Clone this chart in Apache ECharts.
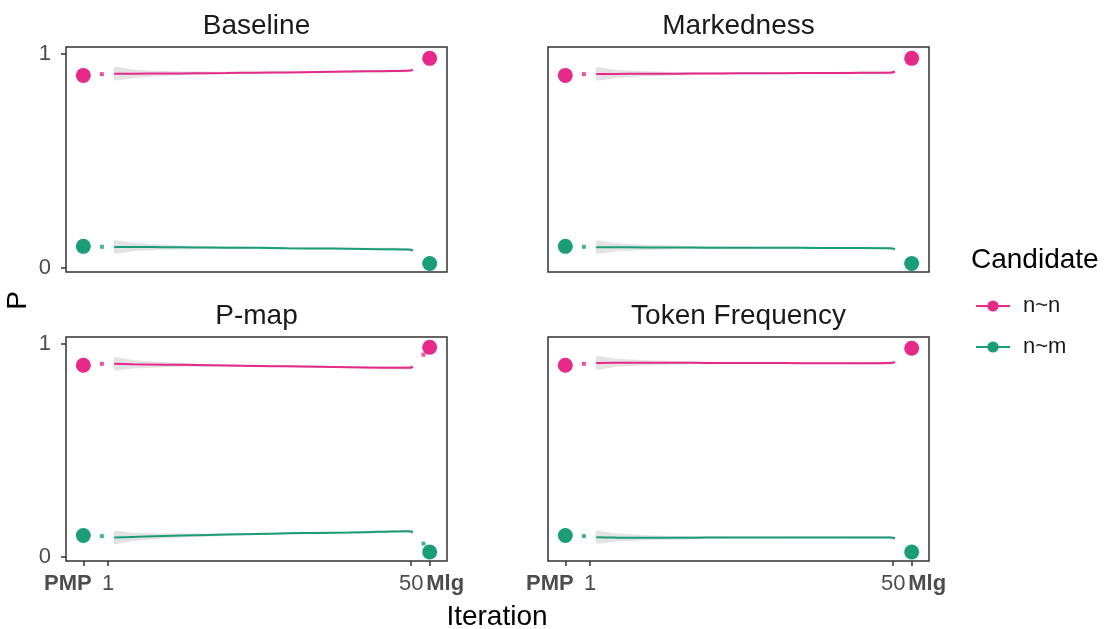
<!DOCTYPE html>
<html><head><meta charset="utf-8">
<script src="https://cdn.jsdelivr.net/npm/echarts@6/dist/echarts.min.js"></script>
<style>html,body{margin:0;padding:0;background:#fff}#c{width:1106px;height:629px}</style>
</head><body><div id="c"></div>
<script>
const panels = ['Baseline','Markedness','P-map','Token Frequency'];
const candidates = ['n~n','n~m'];
const colors = ['#E7298A','#1B9E77'];
const xTickValues = [-3, 1, 50, 53];
const xTickLabels = ['PMP','1','50','Mlg'];
const yTickValues = [0, 1];
// PMP (initial) and Mlg (final) points per panel: [n~n, n~m]
const pmpValues = [[0.90,0.10],[0.90,0.10],[0.90,0.10],[0.90,0.10]];
const mlgValues = [[0.980,0.020],[0.980,0.020],[0.985,0.022],[0.980,0.022]];
// iteration-0 small dots
const iter0Values = [[0.906,0.098],[0.906,0.098],[0.907,0.097],[0.907,0.097]];
// extra small dot near Mlg (P-map only)
const preMlgIter = 52;
const preMlgValues = [null,null,[0.950,0.062],null];
// smoothed trajectories
const iters = [2,5,10,15,20,25,30,35,40,45,49.5,50.3];
const lineNN = [
 [0.908,0.908,0.909,0.910,0.911,0.913,0.914,0.916,0.918,0.920,0.922,0.926],
 [0.907,0.907,0.908,0.908,0.909,0.910,0.910,0.911,0.911,0.912,0.913,0.917],
 [0.907,0.905,0.903,0.901,0.899,0.897,0.895,0.893,0.891,0.889,0.888,0.892],
 [0.911,0.912,0.912,0.912,0.911,0.911,0.911,0.910,0.910,0.910,0.911,0.915]
];
const lineNM = [
 [0.097,0.097,0.096,0.095,0.094,0.093,0.091,0.090,0.089,0.087,0.085,0.081],
 [0.096,0.096,0.095,0.095,0.094,0.094,0.093,0.093,0.092,0.092,0.091,0.087],
 [0.090,0.093,0.098,0.101,0.104,0.107,0.110,0.112,0.114,0.117,0.120,0.116],
 [0.092,0.090,0.089,0.089,0.090,0.090,0.090,0.091,0.091,0.091,0.091,0.087]
];
// ribbon half-widths (confidence band)
const bandHalf = [0.030,0.020,0.012,0.008,0.006,0.005,0.005,0.005,0.005,0.006,0.007,0.008];

const FONT = 'Liberation Sans, Arial, sans-serif';
const grids = [
 {left:66, top:47, width:381, height:225},
 {left:548, top:47, width:381, height:225},
 {left:66, top:337, width:381, height:224},
 {left:548, top:337, width:381, height:224}
];
const option = {
 animation:false,
 backgroundColor:'#fff',
 textStyle:{fontFamily:FONT},
 grid: grids.map(g=>Object.assign({show:true,borderColor:'#333',borderWidth:1.5,backgroundColor:'#fff'},g)),
 title: panels.map((p,i)=>({text:p,left:grids[i].left+grids[i].width/2,top:grids[i].top-35,textAlign:'center',padding:0,
   textStyle:{fontSize:28,fontWeight:'normal',color:'#1a1a1a',fontFamily:FONT}})).concat([
   {text:'Iteration',left:497,top:603,textAlign:'center',padding:0,textStyle:{fontSize:28,fontWeight:'normal',color:'#000',fontFamily:FONT}},
   {text:'Candidate',left:971,top:246,padding:0,textStyle:{fontSize:28,fontWeight:'normal',color:'#000',fontFamily:FONT}}
 ]),
 graphic:[{type:'text',left:4,top:291,rotation:Math.PI/2,style:{text:'P',fontSize:28,fill:'#000',fontFamily:FONT}}],
 legend:{data:candidates,orient:'vertical',left:975,top:295,itemWidth:34,itemHeight:14,itemGap:19,padding:0,
   textStyle:{fontSize:22,color:'#1a1a1a',padding:[0,0,0,8],fontFamily:FONT}},
 xAxis: grids.map((g,i)=>({type:'value',gridIndex:i,min:-5.8,max:55.8,splitLine:{show:false},
   axisLine:{show:false,onZero:false},
   axisTick:{show:i>=2,length:5,lineStyle:{color:'#333',width:1.5},customValues:xTickValues},
   axisLabel:{show:i>=2,customValues:xTickValues,margin:12,fontSize:22,color:'#4d4d4d',hideOverlap:false,
     showMinLabel:true,showMaxLabel:true,
     formatter:v=>{const k=xTickValues.indexOf(v);const t=xTickLabels[k];
       return t==='PMP'?'{l|'+t+'}':(t==='Mlg'?'{r|'+t+'}':t);},
     rich:{l:{fontWeight:'bold',fontSize:22,color:'#4d4d4d',padding:[0,31,0,0]},
           r:{fontWeight:'bold',fontSize:22,color:'#4d4d4d',padding:[0,0,0,31]}}}})),
 yAxis: grids.map((g,i)=>({type:'value',gridIndex:i,min:-0.02,max:1.033,splitLine:{show:false},
   axisLine:{show:false,onZero:false},
   axisTick:{show:i%2===0,length:5,lineStyle:{color:'#333',width:1.5},customValues:yTickValues},
   axisLabel:{show:i%2===0,customValues:yTickValues,margin:15,fontSize:22,color:'#4d4d4d'}})),
 series:[]
};
// legend series
candidates.forEach((c,ci)=>option.series.push({name:c,type:'line',xAxisIndex:0,yAxisIndex:0,data:[],
  symbol:'circle',symbolSize:14,itemStyle:{color:colors[ci]},lineStyle:{color:colors[ci],width:3}}));
panels.forEach((p,i)=>{
 const lines=[lineNN[i],lineNM[i]];
 lines.forEach((arr,ci)=>{
   option.series.push({type:'custom',xAxisIndex:i,yAxisIndex:i,silent:true,z:1,data:[[0,0]],
     renderItem:(params,api)=>{
       const pts=[];
       iters.forEach((x,k)=>pts.push(api.coord([x,arr[k]+bandHalf[k]])));
       for(let k=iters.length-1;k>=0;k--) pts.push(api.coord([iters[k],arr[k]-bandHalf[k]]));
       return {type:'polygon',shape:{points:pts,smooth:0.15},style:{fill:'rgba(153,153,153,0.28)'}};
     }});
   option.series.push({type:'line',xAxisIndex:i,yAxisIndex:i,symbol:'none',smooth:true,z:3,
     lineStyle:{color:colors[ci],width:2},data:iters.map((x,k)=>[x,arr[k]])});
   option.series.push({type:'scatter',xAxisIndex:i,yAxisIndex:i,symbol:'rect',symbolSize:4,z:4,itemStyle:{color:colors[ci]},
     data:[[0,iter0Values[i][ci]]].concat(preMlgValues[i]?[[preMlgIter,preMlgValues[i][ci]]]:[])});
   option.series.push({type:'scatter',xAxisIndex:i,yAxisIndex:i,symbol:'circle',symbolSize:15,z:5,itemStyle:{color:colors[ci],opacity:1},
     data:[[xTickValues[0],pmpValues[i][ci]],[xTickValues[3],mlgValues[i][ci]]]});
 });
});
const chart=echarts.init(document.getElementById('c'),null,{renderer:'canvas'});
chart.setOption(option);
</script></body></html>
